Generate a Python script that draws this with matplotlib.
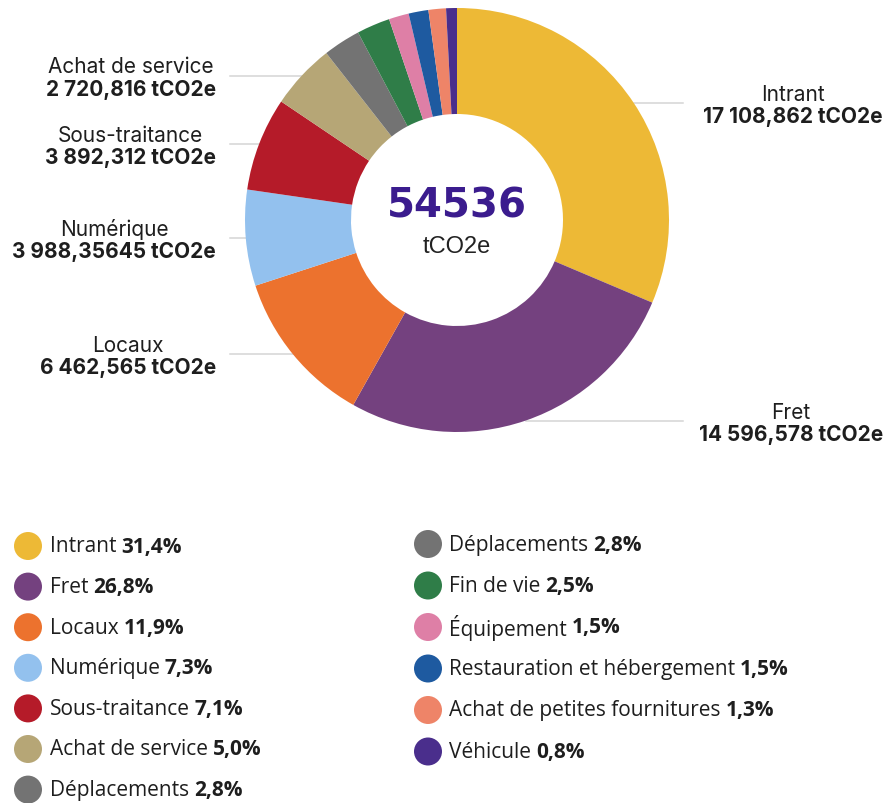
import numpy as np
import matplotlib
matplotlib.use("Agg")
import matplotlib.pyplot as plt
from matplotlib.patches import Circle

# emissions by poste, tCO2e
categories = ["Intrant", "Fret", "Locaux", "Numérique", "Sous-traitance",
              "Achat de service", "Déplacements", "Fin de vie", "Équipement",
              "Restauration et hébergement", "Achat de petites fournitures",
              "Véhicule"]
values = [17108.862, 14596.578, 6462.565, 3988.35645, 3892.312, 2720.816,
          1553, 1383, 832, 822, 727, 449.5]
value_labels = ["17 108,862", "14 596,578", "6 462,565", "3 988,35645",
                "3 892,312", "2 720,816"]
colors = ["#EDB936", "#74417F", "#EC722E", "#93C1EE", "#B51B29", "#B6A676",
          "#737373", "#2F7D48", "#DE7FA6", "#1E5AA0", "#EE8468", "#4A2E8C"]

W, H = 887, 804
fig = plt.figure(figsize=(W / 100, H / 100), dpi=100)
ax = fig.add_axes([0, 0, 1, 1])

cx, cy, R = 457, H - 221, 212
ax.pie(values, colors=colors, startangle=90, counterclock=False,
       radius=R, center=(cx, cy),
       wedgeprops=dict(width=R * 0.5, edgecolor="none"))
ax.set_xlim(0, W)
ax.set_ylim(0, H)
ax.set_aspect("equal")
ax.axis("off")

total = sum(values)
ax.text(cx, cy + 14, f"{total:.0f}", ha="center", va="center",
        fontsize=29, fontweight="bold", color="#3B1C8E", family="DejaVu Sans")
ax.text(cx, cy - 26, "tCO2e", ha="center", va="center", fontsize=17,
        color="#222222", family="Liberation Sans")

# outer labels for the six biggest postes
cum = np.cumsum([0] + values) / total
for i, lab in enumerate(value_labels):
    mid = np.deg2rad((cum[i] + cum[i + 1]) / 2 * 360)
    px = cx + R * np.sin(mid)
    py = cy + R * np.cos(mid)
    if np.sin(mid) > 0:
        lx, tx = 683, 883
    else:
        lx, tx = 230, 216
    ax.plot([px, lx], [py, py], color="#d5d5d5", lw=1.1, zorder=0)
    vt = ax.text(tx, py - 3, lab + " tCO2e", ha="right", va="top",
                 fontsize=15, fontweight="bold", color="#1e1e1e",
                 family="Inter")
    ax.annotate(categories[i], xy=(0.5, 1), xycoords=vt, xytext=(0, 1.5),
                textcoords="offset points", ha="center", va="bottom",
                fontsize=15, color="#1e1e1e", family="Inter")

# legend, two columns
pct = [v / total * 100 for v in values]
cols = [(range(0, 7), 28, 50, 547, 40.6), (range(6, 12), 428, 449, 545, 41.5)]
for idx, mx, tx, y0, step in cols:
    for k, i in enumerate(idx):
        y = H - (y0 + k * step)
        ax.add_patch(Circle((mx, y), 14, color=colors[i], ec="none"))
        t = ax.text(tx, y, categories[i], ha="left", va="center",
                    fontsize=15, color="#1e1e1e", family="Open Sans")
        ax.annotate(f"{pct[i]:.1f}%".replace(".", ","), xy=(1, 0.5),
                    xycoords=t, xytext=(3.5, 0), textcoords="offset points",
                    ha="left", va="center", fontsize=15, fontweight="bold",
                    color="#1e1e1e", family="Open Sans")

fig.savefig("out.png", dpi=100, facecolor="white")
